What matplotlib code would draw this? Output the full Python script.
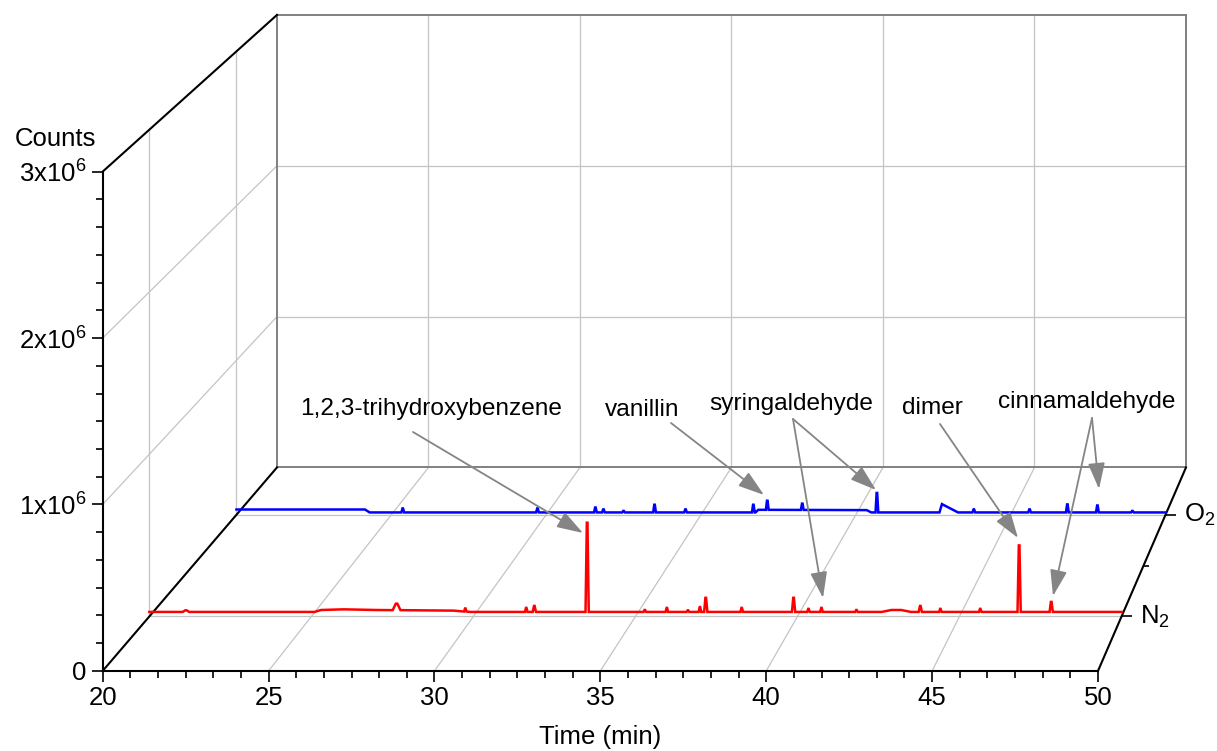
import numpy as np
import matplotlib
matplotlib.use("Agg")
import matplotlib.pyplot as plt
from matplotlib.ticker import MultipleLocator, FixedLocator, FixedFormatter

plt.rcParams['font.family'] = ['Liberation Sans', 'DejaVu Sans']
plt.rcParams['mathtext.fontset'] = 'custom'
plt.rcParams['mathtext.rm'] = 'Liberation Sans'
plt.rcParams['mathtext.it'] = 'Liberation Sans:italic'
plt.rcParams['mathtext.bf'] = 'Liberation Sans:bold'

# ---------------- data ----------------
time_ticks = [20, 25, 30, 35, 40, 45, 50]
count_ticks = [0, 1e6, 2e6, 3e6]
count_labels = ['0', '1x10$^6$', '2x10$^6$', '3x10$^6$']
depth_ticks = [1, 2, 3]
depth_labels = ['N$_2$', '', 'O$_2$']
depth_major = [True, False, True]

n2_depth = 1
o2_depth = 3

# N2 trace (red): baseline knots and peaks (time in min, counts)
n2_base_t = [20.0, 25.1, 25.3, 26.0, 27.0, 29.4, 29.9, 42.6, 42.9, 43.2, 43.5, 50.0]
n2_base_c = [2.8e4, 2.8e4, 4.0e4, 4.4e4, 4.0e4, 3.6e4, 2.8e4, 2.8e4, 4.0e4, 4.0e4, 2.8e4, 2.8e4]
n2_peak_t = [21.13, 27.63, 29.75, 31.63, 31.88, 33.51, 35.29, 35.97, 36.62, 36.99, 37.17,
             38.28, 39.88, 40.34, 40.74, 41.82, 43.79, 44.41, 45.64, 46.84, 47.83]
n2_peak_h = [1.0e4, 4.0e4, 1.9e4, 2.5e4, 3.7e4, 5.5e5, 1.2e4, 2.5e4, 1.0e4, 3.0e4, 8.7e4,
             2.5e4, 8.7e4, 1.9e4, 2.5e4, 1.2e4, 3.7e4, 1.9e4, 1.9e4, 4.1e5, 6.2e4]
n2_peak_w = [0.10, 0.12, 0.04, 0.04, 0.05, 0.05, 0.04, 0.04, 0.04, 0.04, 0.05,
             0.04, 0.05, 0.04, 0.04, 0.04, 0.05, 0.04, 0.04, 0.05, 0.05]

# O2 trace (blue)
o2_base_t = [20.0, 24.15, 24.3, 36.76, 36.85, 40.35, 40.5, 42.7, 42.78, 43.3, 50.0]
o2_base_c = [3.4e4, 3.4e4, 1.5e4, 1.5e4, 3.2e4, 3.0e4, 1.5e4, 1.5e4, 6.9e4, 1.5e4, 1.5e4]
o2_peak_t = [25.37, 29.72, 31.59, 31.85, 32.50, 33.50, 34.50, 36.69, 37.14, 38.27,
             40.68, 43.81, 45.61, 46.83, 47.80, 48.93]
o2_peak_h = [2.6e4, 2.6e4, 3.2e4, 2.0e4, 1.0e4, 5.0e4, 2.0e4, 5.0e4, 5.9e4, 4.1e4,
             1.26e5, 2.0e4, 2.0e4, 5.2e4, 4.5e4, 1.0e4]
o2_peak_w = [0.045] * len(o2_peak_t)

# annotations: label, label position (image px, baseline), arrow tips (image px)
ann_labels = ['1,2,3-trihydroxybenzene', 'vanillin', 'syringaldehyde', 'dimer', 'cinnamaldehyde']
ann_text_xy = [(431, 415), (642, 416), (791, 410), (932, 414), (1087, 408)]
ann_start_xy = [[(413, 432)], [(671, 423)], [(793, 419), (793, 419)], [(940, 424)],
                [(1092, 418), (1092, 418)]]
ann_tip_xy = [[(583, 533)], [(764, 495)], [(876, 490), (823, 598)], [(1018, 538)],
              [(1099, 489), (1053, 596)]]

# ---------------- geometry ----------------
W, H = 1217, 751
T_MIN, T_MAX = 20, 50
C_MIN, C_MAX = 0, 3e6
Z_MIN, Z_MAX = -0.07, 3.93
# back plane expressed in front-plane data units
BX0, BSX = 25.253, 0.9133
BY0, BSY = 1.2224e6, 0.9063
AX_FS = 18.5
ANN_FS = 17.6


def frac(z):
    return (np.asarray(z, float) - Z_MIN) / (Z_MAX - Z_MIN)


def project(t, c, f):
    t = np.asarray(t, float)
    c = np.asarray(c, float)
    f = np.asarray(f, float)
    tb = BX0 + (t - T_MIN) * BSX
    cb = BY0 + c * BSY
    return t * (1 - f) + tb * f, c * (1 - f) + cb * f


def trace(base_t, base_c, pt, ph, pw):
    ts = list(base_t)
    cs = list(base_c)
    for t, h, w in zip(pt, ph, pw):
        b = float(np.interp(t, base_t, base_c))
        ts += [t - w, t - w * 0.2, t + w * 0.2, t + w]
        cs += [b, b + h, b + h, b]
    order = np.argsort(ts, kind='stable')
    return np.array(ts)[order], np.array(cs)[order]


fig = plt.figure(figsize=(W / 100, H / 100), dpi=100)
left_px, right_px = 102.7, 1098.0
bot_px, top_px = 670.9, 171.6
ax = fig.add_axes([left_px / W, (H - bot_px) / H, (right_px - left_px) / W, (bot_px - top_px) / H])
ax.set_xlim(T_MIN, T_MAX)
ax.set_ylim(C_MIN, C_MAX)
ax.patch.set_alpha(0)

grid_kw = dict(color='#c4c4c4', lw=0.9, clip_on=False, zorder=1)
edge_kw = dict(color='#808080', lw=1.4, clip_on=False, zorder=1.5)
blk_kw = dict(color='black', lw=1.5, clip_on=False, zorder=2)

f01 = np.array([0.0, 1.0])
# back wall gridlines
for t in time_ticks[1:-1]:
    x, y = project([t, t], [C_MIN, C_MAX], [1, 1])
    ax.plot(x, y, **grid_kw)
for c in count_ticks[1:-1]:
    x, y = project([T_MIN, T_MAX], [c, c], [1, 1])
    ax.plot(x, y, **grid_kw)
# floor gridlines
for t in time_ticks[1:-1]:
    x, y = project([t, t], [0, 0], f01)
    ax.plot(x, y, **grid_kw)
for z in [n2_depth, o2_depth]:
    x, y = project([T_MIN, T_MAX], [0, 0], [frac(z)] * 2)
    ax.plot(x, y, **grid_kw)
# left wall gridlines
for c in count_ticks[1:-1]:
    x, y = project([T_MIN, T_MIN], [c, c], f01)
    ax.plot(x, y, **grid_kw)
for z in [n2_depth, o2_depth]:
    x, y = project([T_MIN, T_MIN], [C_MIN, C_MAX], [frac(z)] * 2)
    ax.plot(x, y, **grid_kw)
# back wall edges
for tt, cc in [([T_MIN, T_MAX], [C_MAX, C_MAX]), ([T_MIN, T_MAX], [0, 0]),
               ([T_MIN, T_MIN], [C_MIN, C_MAX]), ([T_MAX, T_MAX], [C_MIN, C_MAX])]:
    x, y = project(tt, cc, [1, 1])
    ax.plot(x, y, **edge_kw)
# black edges: left wall top, floor left, depth axis
x, y = project([T_MIN, T_MIN], [C_MAX, C_MAX], f01)
ax.plot(x, y, **blk_kw)
x, y = project([T_MIN, T_MIN], [0, 0], f01)
ax.plot(x, y, **blk_kw)
x, y = project([T_MAX, T_MAX], [0, 0], f01)
ax.plot(x, y, **blk_kw)

# depth ticks and labels
for z, lab, major in zip(depth_ticks, depth_labels, depth_major):
    x, y = project(T_MAX, 0, frac(z))
    ax.plot([x], [y], marker=1, ms=7.5 if major else 3.5, mew=1.2, color='black',
            clip_on=False, zorder=2)
    if lab:
        ax.annotate(lab, xy=(x, y), xytext=(13, 0), textcoords='offset points',
                    ha='left', va='center', fontsize=AX_FS, annotation_clip=False)

# traces
for bt, bc, pt, ph, pw, z, col in [
        (o2_base_t, o2_base_c, o2_peak_t, o2_peak_h, o2_peak_w, o2_depth, '#0000ff'),
        (n2_base_t, n2_base_c, n2_peak_t, n2_peak_h, n2_peak_w, n2_depth, '#ff0000')]:
    ts, cs = trace(bt, bc, pt, ph, pw)
    x, y = project(ts, cs, np.full(len(ts), frac(z)))
    ax.plot(x, y, color=col, lw=1.8, clip_on=False, zorder=3, solid_joinstyle='miter')

# front axes styling
for s in ['top', 'right']:
    ax.spines[s].set_visible(False)
for s in ['left', 'bottom']:
    ax.spines[s].set_linewidth(1.5)
    ax.spines[s].set_zorder(2.5)
ax.xaxis.set_major_locator(FixedLocator(time_ticks))
ax.xaxis.set_minor_locator(MultipleLocator(5 / 6))
ax.yaxis.set_major_locator(FixedLocator(count_ticks))
ax.yaxis.set_major_formatter(FixedFormatter(count_labels))
ax.yaxis.set_minor_locator(MultipleLocator(1e6 / 6))
ax.tick_params(axis='both', which='major', direction='out', length=8, width=1.2, labelsize=AX_FS)
ax.tick_params(axis='both', which='minor', direction='out', length=5, width=1.2)
ax.tick_params(axis='x', which='major', pad=3)
ax.tick_params(axis='y', which='major', pad=4)
ax.set_xlabel('Time (min)', fontsize=AX_FS, labelpad=11)

fig.text(15 / W, (H - 146) / H, 'Counts', ha='left', va='baseline', fontsize=AX_FS)

# annotations
arrow_kw = dict(arrowstyle='-|>,head_length=0.8,head_width=0.26', color='#858585',
                lw=1.3, shrinkA=0, shrinkB=0, mutation_scale=20)
for lab, (tx, ty), starts, tips in zip(ann_labels, ann_text_xy, ann_start_xy, ann_tip_xy):
    fig.text(tx / W, (H - ty) / H, lab, ha='center', va='baseline', fontsize=ANN_FS, zorder=5)
    for (sx, sy), (ex, ey) in zip(starts, tips):
        ax.annotate('', xy=(ex, H - ey), xycoords='figure pixels',
                    xytext=(sx, H - sy), textcoords='figure pixels',
                    arrowprops=arrow_kw, annotation_clip=False, zorder=4)

fig.savefig('out.png', dpi=100)
